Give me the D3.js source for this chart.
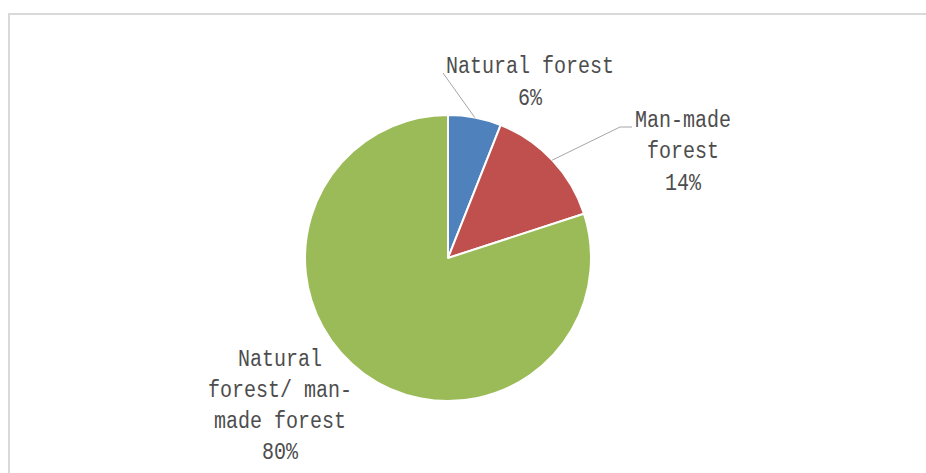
<!DOCTYPE html>
<html><head><meta charset="utf-8">
<script src="https://cdn.jsdelivr.net/npm/d3@7"></script>
<style>
html,body{margin:0;padding:0;background:#fff;}
svg{display:block;}
text{font-family:"Liberation Mono","DejaVu Sans Mono",monospace;fill:#4d4d4d;}
</style></head>
<body>
<script>
const categories = ["Natural forest", "Man-made forest", "Natural forest/ man-made forest"];
const values = [6, 14, 80];
const percentLabels = ["6%", "14%", "80%"];
const labelLines = [["Natural forest", "6%"], ["Man-made", "forest", "14%"], ["Natural", "forest/ man-", "made forest", "80%"]];
const colors = ["#4f81bd", "#c0504d", "#9bbb59"];

const W = 926, H = 473;
const svg = d3.select("body").append("svg").attr("width", W).attr("height", H);

svg.append("rect").attr("x", 9).attr("y", 14).attr("width", 940).attr("height", 500)
  .attr("fill", "none").attr("stroke", "#d9d9d9").attr("stroke-width", 2);

const cx = 448, cy = 258, R = 143;
const g = svg.append("g").attr("transform", `translate(${cx},${cy})`);
const pie = d3.pie().sort(null).value(d => d)(values);
const arc = d3.arc().innerRadius(0).outerRadius(R);
g.selectAll("path").data(pie).join("path")
  .attr("d", arc).attr("fill", (d, i) => colors[i])
  .attr("stroke", "#fff").attr("stroke-width", 2).attr("stroke-linejoin", "round");

// label layout: center x, first baseline, line spacing, leader end points
const layout = [
  {x: 530, y: 73, dy: 32, leader: [[443, 73]]},
  {x: 683, y: 127, dy: 31.5, leader: [[620, 127], [632, 127]]},
  {x: 280, y: 366.5, dy: 31, leader: null}
];
const scaleX = 0.87;
pie.forEach((d, i) => {
  const L = layout[i];
  const t = svg.append("text").attr("text-anchor", "middle")
    .attr("font-size", 23)
    .attr("transform", `translate(${L.x},0) scale(${scaleX},1)`);
  labelLines[i].forEach((ln, j) => {
    t.append("tspan").attr("x", 0).attr("y", L.y + j * L.dy).text(ln);
  });
  if (L.leader) {
    const a = (d.startAngle + d.endAngle) / 2;
    const start = [cx + R * Math.sin(a), cy - R * Math.cos(a)];
    svg.append("path")
      .attr("d", d3.line()([start, ...L.leader]))
      .attr("fill", "none").attr("stroke", "#a6a6a6").attr("stroke-width", 1);
  }
});
</script>
</body></html>
